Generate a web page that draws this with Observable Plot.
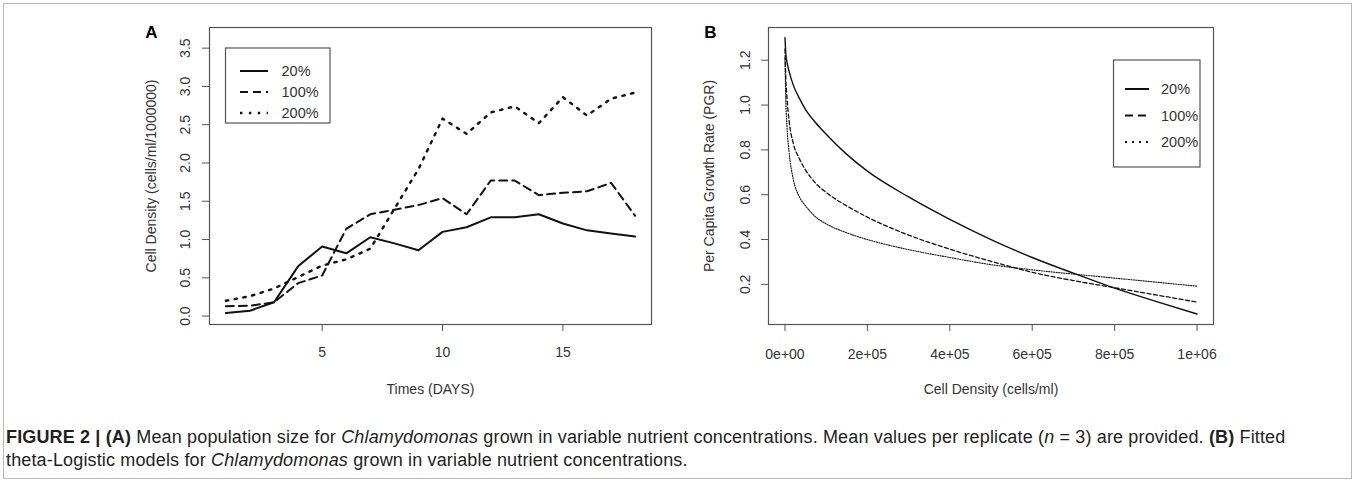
<!DOCTYPE html>
<html><head><meta charset="utf-8">
<script src="https://cdn.jsdelivr.net/npm/d3@7"></script>
<script src="https://cdn.jsdelivr.net/npm/@observablehq/plot@0.6"></script>
<style>
body{margin:0;background:#fff;font-family:"Liberation Sans",Arial,sans-serif;}
#fig{position:relative;width:1357px;height:484px;overflow:hidden;background:#fff}
#border{position:absolute;left:3px;top:3px;width:1349px;height:476px;border:1px solid #b8b8b8;box-sizing:border-box}
.abs{position:absolute;top:0}
#caption{position:absolute;left:6px;top:426px;font-size:18px;letter-spacing:0.15px;line-height:23px;color:#231f20;white-space:nowrap}
</style></head><body>
<div id="fig">
<div id="border"></div>
<div id="panelA" class="abs" style="left:0px"></div>
<div id="panelB" class="abs" style="left:680px"></div>
<svg id="legend" class="abs" style="left:0;top:0" width="1357" height="420"></svg>
<div id="caption"><b>FIGURE 2 | (A)</b> Mean population size for <i>Chlamydomonas</i> grown in variable nutrient concentrations. Mean values per replicate (<i>n</i> = 3) are provided. <b>(B)</b> Fitted<br>theta-Logistic models for <i>Chlamydomonas</i> grown in variable nutrient concentrations.</div>
</div>
<script>
// ---- Panel A data: mean cell density (cells/ml/1000000) by day ----
const days = [1,2,3,4,5,6,7,8,9,10,11,12,13,14,15,16,17,18];
const pct20 = [0.04,0.07,0.18,0.65,0.91,0.82,1.03,0.95,0.86,1.10,1.16,1.29,1.29,1.33,1.21,1.12,1.08,1.04];
const pct100 = [0.13,0.135,0.18,0.43,0.53,1.14,1.33,1.39,1.45,1.54,1.33,1.77,1.77,1.58,1.61,1.63,1.74,1.31];
const pct200 = [0.20,0.26,0.36,0.51,0.66,0.74,0.88,1.40,1.92,2.58,2.38,2.66,2.74,2.52,2.86,2.62,2.84,2.92];
const xTicksA = [5,10,15];
const yTicksA = [0,0.5,1,1.5,2,2.5,3,3.5];

// ---- Panel B data: fitted per capita growth rate vs cell density ----
const densityB = [0,2000,5000,10000,20000,35000,50000,75000,100000,150000,200000,300000,400000,500000,600000,700000,800000,900000,1000000];
const pgr20 = [1.30,1.23,1.19,1.15,1.09,1.03,0.98,0.92,0.87,0.78,0.705,0.59,0.49,0.40,0.32,0.25,0.183,0.124,0.068];
const pgr100 = [1.25,1.12,1.03,0.93,0.83,0.76,0.71,0.65,0.61,0.55,0.50,0.42,0.357,0.303,0.254,0.217,0.185,0.153,0.121];
const pgr200 = [1.21,1.02,0.90,0.79,0.67,0.59,0.55,0.50,0.47,0.43,0.40,0.355,0.32,0.288,0.265,0.246,0.228,0.21,0.192];
const xTicksB = [0,200000,400000,600000,800000,1000000];
const xTickLabelsB = ["0e+00","2e+05","4e+05","6e+05","8e+05","1e+06"];
const yTicksB = [0.2,0.4,0.6,0.8,1.0,1.2];

const seriesNames = ["20%","100%","200%"];

const FONT = "'Liberation Sans', Arial, sans-serif";
const AX = "#555";

const tableA = days.flatMap((d,i)=>[
  {day:d, value:pct20[i], series:"20%"},
  {day:d, value:pct100[i], series:"100%"},
  {day:d, value:pct200[i], series:"200%"}]);
const tableB = densityB.flatMap((n,i)=>[
  {n, value:pgr20[i], series:"20%"},
  {n, value:pgr100[i], series:"100%"},
  {n, value:pgr200[i], series:"200%"}]);

const styleA = {"20%":{w:2,dash:null},"100%":{w:2,dash:"8,5"},"200%":{w:2.4,dash:"2.4,6.5"}};
const styleB = {"20%":{w:1.4,dash:null},"100%":{w:1.3,dash:"4,2.5"},"200%":{w:1.1,dash:"1.2,1.3"}};

const plotA = Plot.plot({
  width: 680, height: 410,
  marginLeft: 209, marginRight: 29, marginTop: 27, marginBottom: 86,
  x: {domain: [0.32, 18.68]},
  y: {domain: [-0.11, 3.77]},
  style: {fontFamily: FONT, fontSize: "14px", color: "#333", background: "transparent"},
  marks: [
    Plot.axisX({ticks: xTicksA, tickSize: 7, tickFormat: () => "", label: null, stroke: AX}),
    Plot.axisY({ticks: yTicksA, tickSize: 7, tickFormat: () => "", label: null, stroke: AX}),
    Plot.text(xTicksA, {x: d => d, text: d => String(d), frameAnchor: "bottom", dy: 28, lineAnchor: "middle", fontSize: 14}),
    Plot.text(yTicksA, {y: d => d, text: d => d.toFixed(1), frameAnchor: "left", dx: -24, rotate: -90, textAnchor: "middle", lineAnchor: "middle", fontSize: 14}),
    Plot.text(["Cell Density (cells/ml/1000000)"], {text: d => d, frameAnchor: "left", dx: -58, rotate: -90, textAnchor: "middle", lineAnchor: "middle", fontSize: 14}),
    Plot.text(["Times (DAYS)"], {text: d => d, frameAnchor: "bottom", dy: 65, lineAnchor: "middle", fontSize: 14}),
    Plot.text(["A"], {text: d => d, frameAnchor: "top-left", dx: -58, dy: 5, lineAnchor: "middle", textAnchor: "middle", fontSize: 17, fontWeight: "bold", fill: "#000"}),
    ...seriesNames.map(s => Plot.line(tableA.filter(d => d.series === s), {
      x: "day", y: "value", stroke: "#111", strokeWidth: styleA[s].w,
      strokeDasharray: styleA[s].dash, strokeLinejoin: "round"})),
    Plot.frame({stroke: AX, strokeWidth: 1.2})
  ]
});
document.getElementById("panelA").append(plotA);

const plotB = Plot.plot({
  width: 560, height: 410,
  marginLeft: 88, marginRight: 27, marginTop: 27, marginBottom: 86,
  x: {domain: [-40000, 1040000]},
  y: {domain: [0.021, 1.346]},
  style: {fontFamily: FONT, fontSize: "14px", color: "#333", background: "transparent"},
  marks: [
    Plot.axisX({ticks: xTicksB, tickSize: 7, tickFormat: () => "", label: null, stroke: AX}),
    Plot.axisY({ticks: yTicksB, tickSize: 7, tickFormat: () => "", label: null, stroke: AX}),
    Plot.text(xTicksB, {x: d => d, text: (d,i) => xTickLabelsB[i], frameAnchor: "bottom", dy: 30, lineAnchor: "middle", fontSize: 14}),
    Plot.text(yTicksB, {y: d => d, text: d => d.toFixed(1), frameAnchor: "left", dx: -23, rotate: -90, textAnchor: "middle", lineAnchor: "middle", fontSize: 14}),
    Plot.text(["Per Capita Growth Rate (PGR)"], {text: d => d, frameAnchor: "left", dx: -59, rotate: -90, textAnchor: "middle", lineAnchor: "middle", fontSize: 14}),
    Plot.text(["Cell Density (cells/ml)"], {text: d => d, frameAnchor: "bottom", dy: 65, lineAnchor: "middle", fontSize: 14}),
    Plot.text(["B"], {text: d => d, frameAnchor: "top-left", dx: -58, dy: 5, lineAnchor: "middle", textAnchor: "middle", fontSize: 17, fontWeight: "bold", fill: "#000"}),
    ...seriesNames.map(s => Plot.line(tableB.filter(d => d.series === s), {
      x: "n", y: "value", stroke: "#111", strokeWidth: styleB[s].w,
      strokeDasharray: styleB[s].dash, curve: "monotone-x"})),
    Plot.frame({stroke: AX, strokeWidth: 1.2})
  ]
});
document.getElementById("panelB").append(plotB);

// ---- Legends (overlay) ----
const lg = d3.select("#legend");
function legend(box, x1, x2, tx, rows, st, fs) {
  lg.append("rect").attr("x", box[0]).attr("y", box[1]).attr("width", box[2]).attr("height", box[3])
    .attr("fill", "none").attr("stroke", AX).attr("stroke-width", 1.2);
  seriesNames.forEach((s, i) => {
    lg.append("line").attr("x1", x1).attr("x2", x2).attr("y1", rows[i]).attr("y2", rows[i])
      .attr("stroke", "#111").attr("stroke-width", st[s].w).attr("stroke-dasharray", st[s].dash);
    lg.append("text").attr("x", tx).attr("y", rows[i]).attr("dy", "0.35em")
      .attr("font-family", FONT).attr("font-size", fs).attr("fill", "#333").text(s);
  });
}
legend([225.5, 48, 104.5, 75], 240, 268, 281.5, [71, 92, 113],
  {"20%":{w:2,dash:null},"100%":{w:2,dash:"8,5"},"200%":{w:2.4,dash:"2.4,6.5"}}, 14.5);
legend([1113.5, 60, 86.5, 107], 1125, 1149, 1161, [89, 115.5, 142],
  {"20%":{w:2,dash:null},"100%":{w:2,dash:"8,5"},"200%":{w:2,dash:"2,5"}}, 14.5);
</script>
</body></html>
